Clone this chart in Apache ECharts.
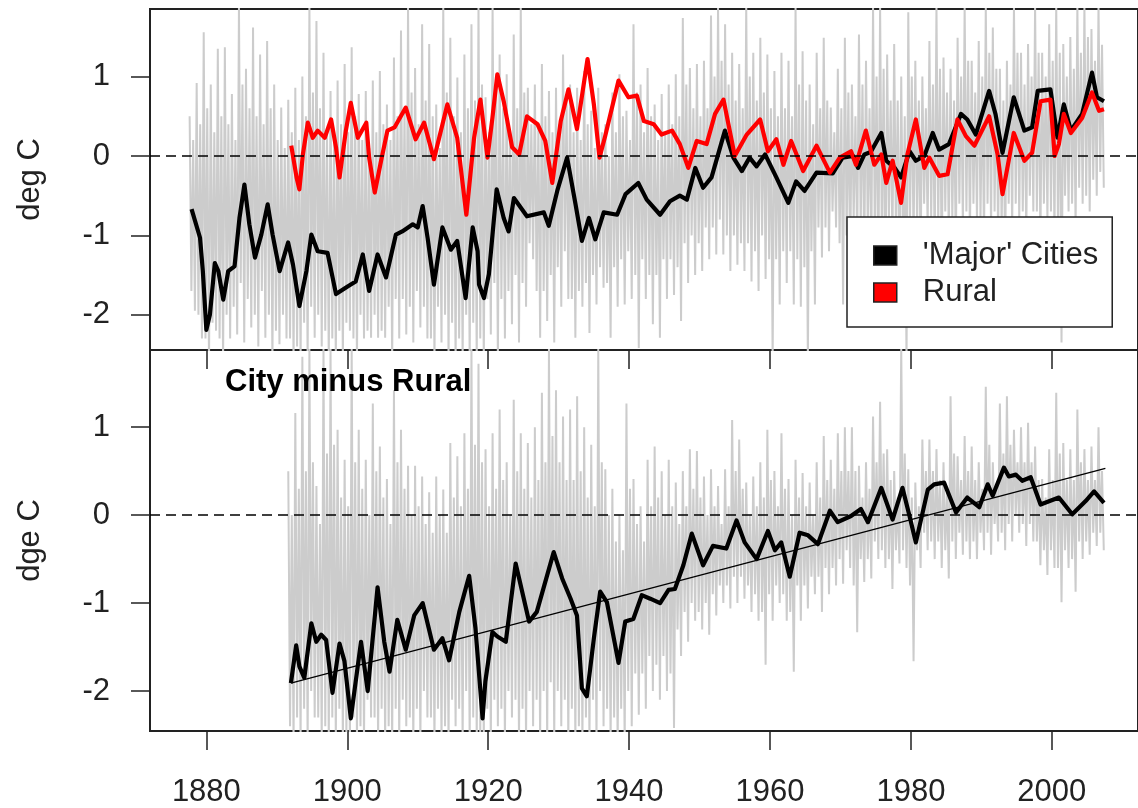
<!DOCTYPE html>
<html>
<head>
<meta charset="utf-8">
<script src="https://cdn.jsdelivr.net/npm/echarts@6/dist/echarts.min.js"></script>
<style>
html,body{margin:0;padding:0;background:#fff;}
#chart{width:1138px;height:808px;}
</style>
</head>
<body>
<div id="chart"></div>
<script>
// ---------- data ----------
const xTicks = [1880, 1900, 1920, 1940, 1960, 1980, 2000];
const yTicks = [-2, -1, 0, 1];

// top panel: grey monthly envelope per year (extreme high / low and dense-core high / low), years 1878..2007
const grayTopStart = 1878;
const grayTopHi = [
 0.5,0.92,1.56,0.9,1.35,1.37,0.78,1.9,1.1,1.62,
 1.28,1.45,0.9,0.61,0.71,0.86,1.0,1.9,1.7,1.3,
 0.82,0.95,1.16,1.37,0.78,0.82,0.95,1.07,0.65,1.24,
 1.58,1.9,1.11,1.66,1.41,0.65,1.9,1.49,0.99,1.28,
 1.66,1.9,0.74,1.9,1.28,1.03,1.53,1.9,0.86,0.9,
 1.16,0.82,0.86,1.28,0.9,0.86,1.07,0.57,0.86,0.4,
 0.8,1.03,0.57,1.66,0.9,1.11,0.65,0.78,0.9,1.03,
 1.74,1.11,1.16,1.2,1.77,1.9,1.66,1.3,1.16,1.9,
 1.3,1.49,1.28,1.07,1.3,1.2,1.9,1.32,0.9,1.3,
 1.49,0.61,1.1,1.49,0.9,1.53,1.2,1.9,1.9,1.28,
 1.41,1.0,1.81,1.2,1.0,1.45,1.9,1.24,1.1,1.49,
 1.9,1.2,1.45,1.9,1.62,1.1,1.2,1.9,1.3,1.41,
 1.9,1.3,1.66,1.9,1.41,1.5,1.9,1.9,1.6,1.9
];
const grayTopLo = [
 -1.95,-2.3,-2.6,-2.2,-2.6,-2.3,-2.25,-2.35,-2.16,-2.4,
 -2.29,-2.6,-2.37,-2.3,-2.6,-2.6,-2.6,-2.29,-2.4,-2.6,
 -2.6,-2.6,-2.2,-2.6,-2.3,-2.29,-2.29,-2.29,-2.6,-2.3,
 -2.25,-2.35,-2.16,-2.3,-2.6,-2.35,-2.6,-2.6,-2.6,-2.6,
 -2.6,-2.6,-2.25,-2.6,-2.3,-2.12,-2.35,-1.9,-1.3,-2.29,
 -2.08,-2.35,-1.9,-1.8,-2.29,-1.9,-2.23,-1.87,-1.66,-2.29,
 -1.9,-1.87,-1.8,-2.42,-1.8,-2.12,-2.29,-1.8,-1.75,-2.08,
 -1.6,-1.5,-1.45,-1.3,-1.24,-1.24,-1.45,-1.37,-1.45,-1.58,
 -1.7,-1.55,-2.6,-1.87,-1.6,-1.87,-1.9,-2.6,-1.87,-1.28,
 -1.2,-0.9,-1.87,-1.45,-1.1,-1.3,-1.28,-1.6,-1.87,-1.1,
 -1.5,-2.6,-1.1,-1.3,-0.9,-1.2,-1.5,-1.0,-1.2,-0.9,
 -1.0,-0.8,-1.1,-0.9,-1.0,-1.3,-0.9,-0.8,-1.0,-0.7,
 -1.1,-0.8,-1.0,-2.35,-0.7,-0.9,-0.6,-0.7,-0.5,-0.4
];
const grayTopCoreHi = [
 0.2,0.4,0.6,0.3,0.5,0.4,0.2,0.9,0.6,0.5,
 0.4,0.6,0.2,0.1,0.3,0.2,0.5,0.8,0.6,0.3,
 0.2,0.4,0.3,0.5,0.2,0.1,0.3,0.4,0.2,0.5,
 0.6,0.8,0.4,0.7,0.5,0.1,0.8,0.5,0.3,0.6,
 0.7,0.9,0.3,1.0,0.6,0.3,0.6,0.8,0.4,0.4,
 0.5,0.3,0.4,0.7,0.3,0.2,0.4,0.1,0.3,0.0,
 0.3,0.5,0.2,0.8,0.3,0.5,0.2,0.3,0.4,0.5,
 0.9,0.6,0.5,0.6,1.0,1.2,0.9,0.7,0.6,1.0,
 0.7,0.8,0.6,0.5,0.6,0.5,0.9,0.7,0.4,0.6,
 0.7,0.3,0.6,0.8,0.5,0.9,0.6,1.0,1.1,0.7,
 0.7,0.5,1.0,0.7,0.6,0.9,1.1,0.8,0.7,1.0,
 1.2,0.8,1.0,1.3,1.1,0.7,0.9,1.3,0.9,1.0,
 1.3,1.0,1.2,1.3,1.0,1.1,1.3,1.5,1.2,1.4
];
const grayTopCoreLo = [
 -1.7,-2.0,-2.3,-2.1,-2.3,-2.0,-1.9,-1.6,-1.8,-2.0,
 -1.7,-2.0,-2.2,-2.0,-2.3,-2.4,-2.1,-1.9,-2.0,-2.2,
 -2.3,-2.2,-2.1,-2.3,-2.0,-2.2,-2.0,-2.2,-1.9,-1.8,
 -1.8,-1.9,-1.7,-1.9,-2.3,-1.9,-2.0,-2.1,-2.3,-2.0,
 -2.1,-2.3,-1.8,-1.6,-1.8,-1.7,-1.5,-1.6,-1.1,-1.7,
 -1.7,-1.5,-1.4,-1.2,-1.8,-1.7,-1.6,-1.5,-1.4,-1.6,
 -1.4,-1.3,-1.2,-1.5,-1.3,-1.5,-1.5,-1.3,-1.3,-1.4,
 -1.1,-1.0,-1.1,-0.9,-0.9,-0.8,-1.0,-1.0,-1.1,-1.1,
 -1.2,-1.0,-1.3,-1.3,-1.2,-1.2,-1.3,-1.4,-1.2,-0.9,
 -0.9,-0.7,-1.1,-1.0,-0.8,-0.9,-0.9,-1.0,-1.1,-0.8,
 -1.0,-1.2,-0.8,-0.9,-0.6,-0.8,-0.9,-0.7,-0.8,-0.6,
 -0.7,-0.6,-0.8,-0.6,-0.7,-0.9,-0.6,-0.6,-0.7,-0.5,
 -0.7,-0.6,-0.7,-0.9,-0.5,-0.6,-0.4,-0.5,-0.3,-0.2
];

// top panel: smoothed 'Major' Cities (black)
const cityX = [1877.9,1879.1,1879.5,1880.0,1880.5,1881.2,1881.7,1882.4,1883.1,1884.0,1884.7,1885.4,1886.1,1886.9,1887.8,1888.7,1889.4,1890.4,1891.6,1892.3,1893.2,1894.2,1894.9,1895.8,1897.2,1898.4,1900.1,1901.2,1902.2,1903.1,1904.3,1905.5,1906.9,1907.8,1909.3,1910.0,1910.7,1911.4,1912.3,1913.5,1914.7,1915.6,1916.8,1917.8,1918.5,1918.7,1919.4,1920.1,1921.2,1922.2,1922.9,1923.65,1925.5,1927.9,1928.6,1929.8,1931.2,1932.4,1933.3,1934.3,1935.2,1936.4,1938.3,1939.5,1941.3,1942.5,1944.4,1945.8,1947.2,1948.2,1949.4,1950.5,1951.7,1953.6,1954.8,1956.0,1957.1,1958.1,1959.3,1960.9,1962.6,1963.7,1964.9,1966.6,1968.9,1970.3,1971.8,1972.5,1973.4,1974.3,1975.8,1976.5,1977.7,1978.6,1979.8,1980.7,1981.9,1983.1,1984.0,1985.4,1987.1,1988.0,1989.2,1991.1,1992.0,1993.0,1994.6,1996.1,1997.2,1998.0,1999.8,2000.8,2001.7,2002.7,2004.3,2005.7,2006.4,2007.4];
const cityY = [-0.67,-1.03,-1.45,-2.19,-2.0,-1.35,-1.45,-1.81,-1.45,-1.39,-0.78,-0.36,-0.86,-1.28,-0.99,-0.61,-0.99,-1.45,-1.09,-1.37,-1.89,-1.45,-0.99,-1.2,-1.22,-1.74,-1.64,-1.58,-1.24,-1.70,-1.24,-1.53,-0.99,-0.95,-0.86,-0.9,-0.63,-1.03,-1.62,-0.9,-1.18,-1.07,-1.79,-0.9,-1.2,-1.62,-1.79,-1.49,-0.42,-0.78,-0.95,-0.53,-0.76,-0.71,-0.88,-0.44,-0.02,-0.61,-1.07,-0.78,-1.05,-0.71,-0.74,-0.48,-0.34,-0.55,-0.74,-0.57,-0.50,-0.55,-0.15,-0.40,-0.27,0.32,-0.02,-0.19,-0.02,-0.13,0.02,-0.27,-0.59,-0.32,-0.44,-0.21,-0.22,-0.02,0,-0.15,0.02,0.05,0.29,-0.06,-0.15,-0.27,0.06,-0.06,0,0.29,0.08,0.15,0.53,0.46,0.27,0.82,0.53,0.04,0.74,0.32,0.36,0.82,0.84,0.23,0.65,0.32,0.53,1.05,0.74,0.69];

// top panel: smoothed Rural (red)
const ruralX = [1892.05,1892.8,1893.2,1893.7,1894.4,1895.1,1895.8,1896.8,1897.7,1898.4,1898.9,1899.8,1900.5,1901.5,1902.7,1903.1,1903.9,1904.8,1905.7,1906.7,1908.3,1909.7,1910.9,1912.3,1914.2,1915.6,1916.9,1918.0,1918.9,1919.9,1920.6,1921.3,1922.2,1923.4,1924.4,1925.5,1927.0,1928.1,1929.1,1930.3,1931.4,1932.6,1934.1,1935.0,1935.8,1936.6,1938.5,1939.9,1941.1,1942.1,1943.5,1944.6,1946.1,1947.2,1948.4,1949.6,1951.0,1952.2,1953.4,1955.0,1956.7,1958.6,1959.7,1960.9,1961.9,1963.0,1964.7,1966.6,1968.5,1969.9,1971.5,1972.2,1973.6,1974.8,1975.8,1976.5,1977.4,1978.6,1979.5,1980.7,1981.9,1982.6,1984.0,1985.2,1986.6,1987.8,1989.0,1991.1,1992.3,1993.0,1994.6,1996.1,1997.2,1998.4,1999.8,2000.4,2001.0,2001.7,2002.7,2004.3,2005.7,2006.7,2007.4];
const ruralY = [0.13,-0.27,-0.42,0.02,0.42,0.23,0.32,0.23,0.46,0.11,-0.27,0.32,0.67,0.23,0.42,-0.02,-0.46,-0.06,0.32,0.36,0.61,0.21,0.42,-0.04,0.65,0.23,-0.74,0.23,0.71,-0.02,0.48,1.03,0.69,0.11,0.02,0.50,0.40,0.19,-0.34,0.44,0.84,0.34,1.22,0.65,-0.02,0.25,0.95,0.74,0.76,0.44,0.40,0.27,0.32,0.15,-0.15,0.19,0.15,0.53,0.71,0.0,0.27,0.46,0.06,0.21,-0.11,0.19,-0.19,0.13,-0.21,-0.02,0.06,-0.11,0.32,-0.11,0.02,-0.34,-0.06,-0.59,0.02,0.46,-0.15,-0.02,-0.25,-0.23,0.46,0.25,0.13,0.50,0.02,-0.48,0.29,-0.06,0.04,0.69,0.71,0.0,0.15,0.53,0.29,0.48,0.80,0.57,0.59];

// bottom panel: grey monthly envelope of City minus Rural, years 1892..2007
const grayBotStart = 1892;
const grayBotHi = [
 0.5,1.16,1.8,1.9,0.33,1.9,1.9,0.97,0.63,1.9,
 0.97,0.63,1.27,0.78,0.41,1.42,0.97,0.56,0.56,0.44,
 0.26,0.44,0.29,0.82,0.67,0.93,1.9,1.72,0.75,0.93,
 1.2,0.6,1.31,0.93,0.82,1.0,1.39,1.9,1.42,1.12,
 1.2,1.35,1.0,0.8,1.9,0.52,0.3,0.0,1.27,0.41,
 0.1,0.63,0.78,0.5,0.63,0.37,0.5,0.75,0.73,0.44,
 0.52,0.33,0.52,1.08,0.86,0.37,0.44,0.6,0.97,0.5,
 0.93,0.41,0.63,0.48,0.37,0.6,0.9,0.63,0.93,1.0,
 1.0,0.56,0.6,1.12,1.29,0.75,0.5,1.9,0.52,0.37,
 0.86,0.86,0.75,0.6,1.35,0.67,0.9,0.78,0.6,1.46,
 0.6,1.27,1.35,0.97,1.0,1.05,0.78,0.41,0.75,1.39,
 0.82,0.75,1.2,0.75,0.78,1.0
];
const grayBotLo = [
 -2.6,-2.6,-2.6,-2.3,-2.6,-2.6,-2.6,-2.6,-2.6,-2.6,
 -2.6,-2.3,-2.6,-2.6,-2.6,-2.6,-2.4,-2.6,-2.6,-2.3,
 -2.6,-2.6,-2.6,-2.4,-2.6,-2.6,-2.6,-2.6,-2.6,-2.4,
 -2.6,-2.3,-2.6,-2.6,-2.4,-2.6,-2.6,-2.6,-2.4,-2.6,
 -2.6,-2.6,-2.6,-2.6,-2.4,-2.6,-2.6,-2.6,-2.4,-2.27,
 -2.2,-2.0,-2.1,-2.0,-2.42,-1.6,-1.44,-1.2,-1.3,-1.36,
 -1.14,-1.0,-1.06,-1.0,-0.95,-1.1,-1.2,-1.7,-1.2,-1.0,
 -1.2,-1.78,-1.2,-1.06,-0.9,-1.1,-0.9,-0.8,-0.78,-0.6,
 -1.33,-0.76,-0.72,-0.5,-0.6,-0.84,-0.55,-0.6,-1.66,-0.6,
 -0.4,-0.5,-0.6,-0.72,-0.5,-0.45,-0.5,-0.5,-0.4,-0.45,
 -0.3,-0.4,-0.3,-0.2,-0.35,-0.3,-0.57,-0.68,-0.6,-0.99,
 -0.6,-0.87,-0.5,-0.45,-0.35,-0.4
];
const grayBotCoreHi = [
 0.0,0.3,0.5,0.6,-0.1,0.7,0.8,0.2,0.1,0.6,
 0.3,0.0,0.5,0.2,-0.1,0.6,0.3,0.0,0.1,-0.1,
 -0.2,0.0,-0.2,0.2,0.1,0.3,0.8,0.6,0.1,0.3,
 0.4,0.0,0.5,0.3,0.2,0.4,0.6,0.9,0.6,0.4,
 0.4,0.5,0.2,0.1,0.6,0.0,-0.3,-0.4,0.3,-0.1,
 -0.3,0.1,0.2,0.0,0.1,-0.1,0.1,0.3,0.2,0.0,
 0.1,-0.1,0.1,0.5,0.3,0.0,0.1,0.2,0.4,0.1,
 0.3,0.0,0.2,0.1,0.0,0.2,0.4,0.3,0.5,0.5,
 0.5,0.2,0.3,0.6,0.7,0.4,0.2,0.7,0.2,0.1,
 0.5,0.5,0.4,0.3,0.7,0.4,0.5,0.4,0.3,0.8,
 0.3,0.7,0.8,0.6,0.6,0.6,0.4,0.2,0.4,0.7,
 0.4,0.4,0.6,0.4,0.4,0.5
];
const grayBotCoreLo = [
 -2.4,-2.3,-2.2,-2.0,-2.3,-2.4,-2.3,-2.2,-2.5,-2.3,
 -2.4,-2.1,-2.3,-2.2,-2.4,-2.2,-2.1,-2.3,-2.2,-2.0,
 -2.3,-2.2,-2.4,-2.1,-2.2,-2.0,-2.3,-2.5,-2.2,-2.1,
 -2.2,-2.0,-2.1,-2.2,-2.0,-2.1,-2.0,-1.9,-2.0,-2.1,
 -2.2,-2.4,-2.3,-2.1,-2.0,-2.2,-2.3,-2.2,-2.0,-1.8,
 -1.8,-1.6,-1.7,-1.6,-1.8,-1.3,-1.1,-1.0,-1.1,-1.0,
 -0.9,-0.8,-0.8,-0.7,-0.7,-0.8,-0.9,-1.1,-0.9,-0.8,
 -0.9,-1.1,-0.8,-0.8,-0.7,-0.7,-0.6,-0.6,-0.5,-0.4,
 -0.8,-0.5,-0.5,-0.3,-0.4,-0.5,-0.4,-0.4,-0.8,-0.4,
 -0.2,-0.3,-0.3,-0.4,-0.3,-0.2,-0.3,-0.3,-0.2,-0.2,
 -0.1,-0.2,-0.1,0.0,-0.1,-0.1,-0.3,-0.4,-0.4,-0.6,
 -0.4,-0.5,-0.3,-0.3,-0.2,-0.2
];

// bottom panel: smoothed City minus Rural (black)
const diffX = [1892.0,1892.75,1893.2,1893.9,1894.9,1895.6,1896.3,1897.0,1897.9,1898.9,1899.6,1900.5,1901.95,1902.9,1904.3,1905.25,1906.0,1907.1,1908.3,1909.5,1910.7,1912.3,1913.5,1914.45,1915.9,1917.3,1918.2,1919.2,1919.6,1920.6,1921.3,1922.5,1923.9,1925.8,1926.9,1929.3,1930.5,1931.7,1932.6,1933.3,1934.0,1935.0,1935.9,1936.85,1938.5,1939.45,1940.6,1941.8,1943.0,1944.4,1945.6,1946.5,1947.7,1948.9,1950.5,1951.9,1953.8,1955.25,1956.4,1958.1,1959.7,1960.7,1961.6,1962.8,1964.2,1965.4,1966.8,1968.5,1969.6,1971.5,1972.9,1973.9,1975.8,1977.4,1978.8,1979.8,1980.7,1982.4,1983.3,1984.7,1986.4,1988.0,1989.7,1990.9,1991.6,1993.2,1993.9,1994.9,1995.8,1997.0,1998.4,2001.0,2002.9,2004.8,2006.0,2007.4];
const diffY = [-1.91,-1.48,-1.72,-1.85,-1.23,-1.44,-1.36,-1.42,-2.02,-1.46,-1.66,-2.31,-1.44,-2.0,-0.82,-1.44,-1.78,-1.19,-1.53,-1.14,-1.0,-1.53,-1.40,-1.65,-1.10,-0.69,-1.29,-2.31,-1.89,-1.33,-1.38,-1.44,-0.55,-1.21,-1.10,-0.42,-0.72,-0.95,-1.14,-1.97,-2.06,-1.40,-0.87,-0.99,-1.68,-1.21,-1.18,-0.91,-0.95,-1.0,-0.85,-0.84,-0.57,-0.21,-0.57,-0.35,-0.38,-0.06,-0.31,-0.50,-0.18,-0.40,-0.31,-0.70,-0.20,-0.23,-0.33,0.05,-0.08,-0.01,0.07,-0.08,0.31,-0.05,0.31,-0.01,-0.31,0.29,0.35,0.37,0.03,0.20,0.09,0.35,0.22,0.54,0.44,0.46,0.39,0.43,0.12,0.20,0.01,0.16,0.27,0.14];

// bottom panel: linear trend end points
const trendX = [1892.0, 2007.6];
const trendY = [-1.91, 0.53];

// ---------- build series data ----------
function zip(xs, ys){ return xs.map((x,i)=>[x, ys[i]]); }
// four readings per year, drawn as a connected trace: extreme high, core low, core high, extreme low
function monthlyTrace(start, hi, coreLo, coreHi, lo){
  const out = [];
  for (let i = 0; i < hi.length; i++){
    const y = start + i;
    out.push([y - 0.375, hi[i]]);
    out.push([y - 0.125, coreLo[i]]);
    out.push([y + 0.125, coreHi[i]]);
    out.push([y + 0.375, lo[i]]);
  }
  return out;
}

const FONT = "'Liberation Sans', Arial, sans-serif";
const INK = '#222';
const GREY = '#cccccc';

function xAxisCfg(gridIndex, showLabels){
  return {
    type:'value', gridIndex, min:1872, max:2012.23,
    axisLine:{show:false, onZero:false},
    splitLine:{show:false},
    axisTick:{show:true, length:19, customValues:xTicks, lineStyle:{color:INK, width:1.5}},
    axisLabel:{show:showLabels, customValues:xTicks, margin:46, fontSize:31, color:INK, fontFamily:FONT,
               formatter:(v)=>String(v)},
  };
}
function yAxisCfg(gridIndex, min, max, name){
  return {
    type:'value', gridIndex, min, max,
    name, nameLocation:'middle', nameGap:104,
    nameTextStyle:{fontSize:31, color:INK, fontFamily:FONT},
    axisLine:{show:false, onZero:false},
    splitLine:{show:false},
    axisTick:{show:true, length:19, customValues:yTicks, lineStyle:{color:INK, width:1.5}},
    axisLabel:{show:true, customValues:yTicks, margin:40, fontSize:31, color:INK, fontFamily:FONT,
               formatter:(v)=>String(v)},
  };
}
const zeroLine = {
  silent:true, symbol:['none','none'],
  label:{show:false},
  lineStyle:{color:'#000', type:[10,6], width:1.5},
  data:[{yAxis:0}]
};

const option = {
  backgroundColor:'#fff',
  animation:false,
  title:{
    text:'City minus Rural', left:225, top:367, padding:0,
    textStyle:{fontSize:31, fontWeight:'bold', color:'#000', fontFamily:FONT}
  },
  legend:{
    orient:'vertical', left:847, top:217,
    padding:[23,14,19,26], itemGap:6,
    itemWidth:23, itemHeight:19,
    backgroundColor:'#fff', borderColor:INK, borderWidth:1.5,
    selectedMode:false,
    textStyle:{fontSize:31, color:INK, fontFamily:FONT, lineHeight:30, padding:[0,0,0,21]},
    data:[
      {name:"'Major' Cities", icon:'rect', itemStyle:{color:'#000', borderColor:INK, borderWidth:1.5}},
      {name:'Rural', icon:'rect', itemStyle:{color:'#ff0000', borderColor:INK, borderWidth:1.5}}
    ]
  },
  grid:[
    {left:150, top:9, width:991, height:341, show:true, borderColor:INK, borderWidth:2, backgroundColor:'transparent'},
    {left:150, top:350, width:991, height:383, show:true, borderColor:INK, borderWidth:2, backgroundColor:'transparent'}
  ],
  xAxis:[ xAxisCfg(0,false), xAxisCfg(1,true) ],
  yAxis:[ yAxisCfg(0,-2.444,1.852,'deg C'), yAxisCfg(1,-2.454,1.877,'dge C') ],
  series:[
    {name:'city monthly', type:'line', xAxisIndex:0, yAxisIndex:0,
     data:monthlyTrace(grayTopStart, grayTopHi, grayTopCoreLo, grayTopCoreHi, grayTopLo),
     symbol:'none', silent:true, clip:true, lineStyle:{color:GREY, width:2}, z:1},
    {name:"'Major' Cities", type:'line', xAxisIndex:0, yAxisIndex:0, data:zip(cityX, cityY),
     symbol:'none', clip:true, lineStyle:{color:'#000', width:4.2, join:'round'}, itemStyle:{color:'#000'}, z:3, markLine:zeroLine},
    {name:'Rural', type:'line', xAxisIndex:0, yAxisIndex:0, data:zip(ruralX, ruralY),
     symbol:'none', clip:true, lineStyle:{color:'#ff0000', width:4.2, join:'round'}, itemStyle:{color:'#ff0000'}, z:4},
    {name:'diff monthly', type:'line', xAxisIndex:1, yAxisIndex:1,
     data:monthlyTrace(grayBotStart, grayBotHi, grayBotCoreLo, grayBotCoreHi, grayBotLo),
     symbol:'none', silent:true, clip:true, lineStyle:{color:GREY, width:2}, z:1},
    {name:'City minus Rural', type:'line', xAxisIndex:1, yAxisIndex:1, data:zip(diffX, diffY),
     symbol:'none', clip:true, lineStyle:{color:'#000', width:4.2, join:'round'}, z:3, markLine:zeroLine},
    {name:'trend', type:'line', xAxisIndex:1, yAxisIndex:1, data:zip(trendX, trendY),
     symbol:'none', clip:true, lineStyle:{color:'#000', width:1.3}, z:4}
  ]
};

const chart = echarts.init(document.getElementById('chart'), null, {renderer:'canvas'});
chart.setOption(option);
</script>
</body>
</html>
